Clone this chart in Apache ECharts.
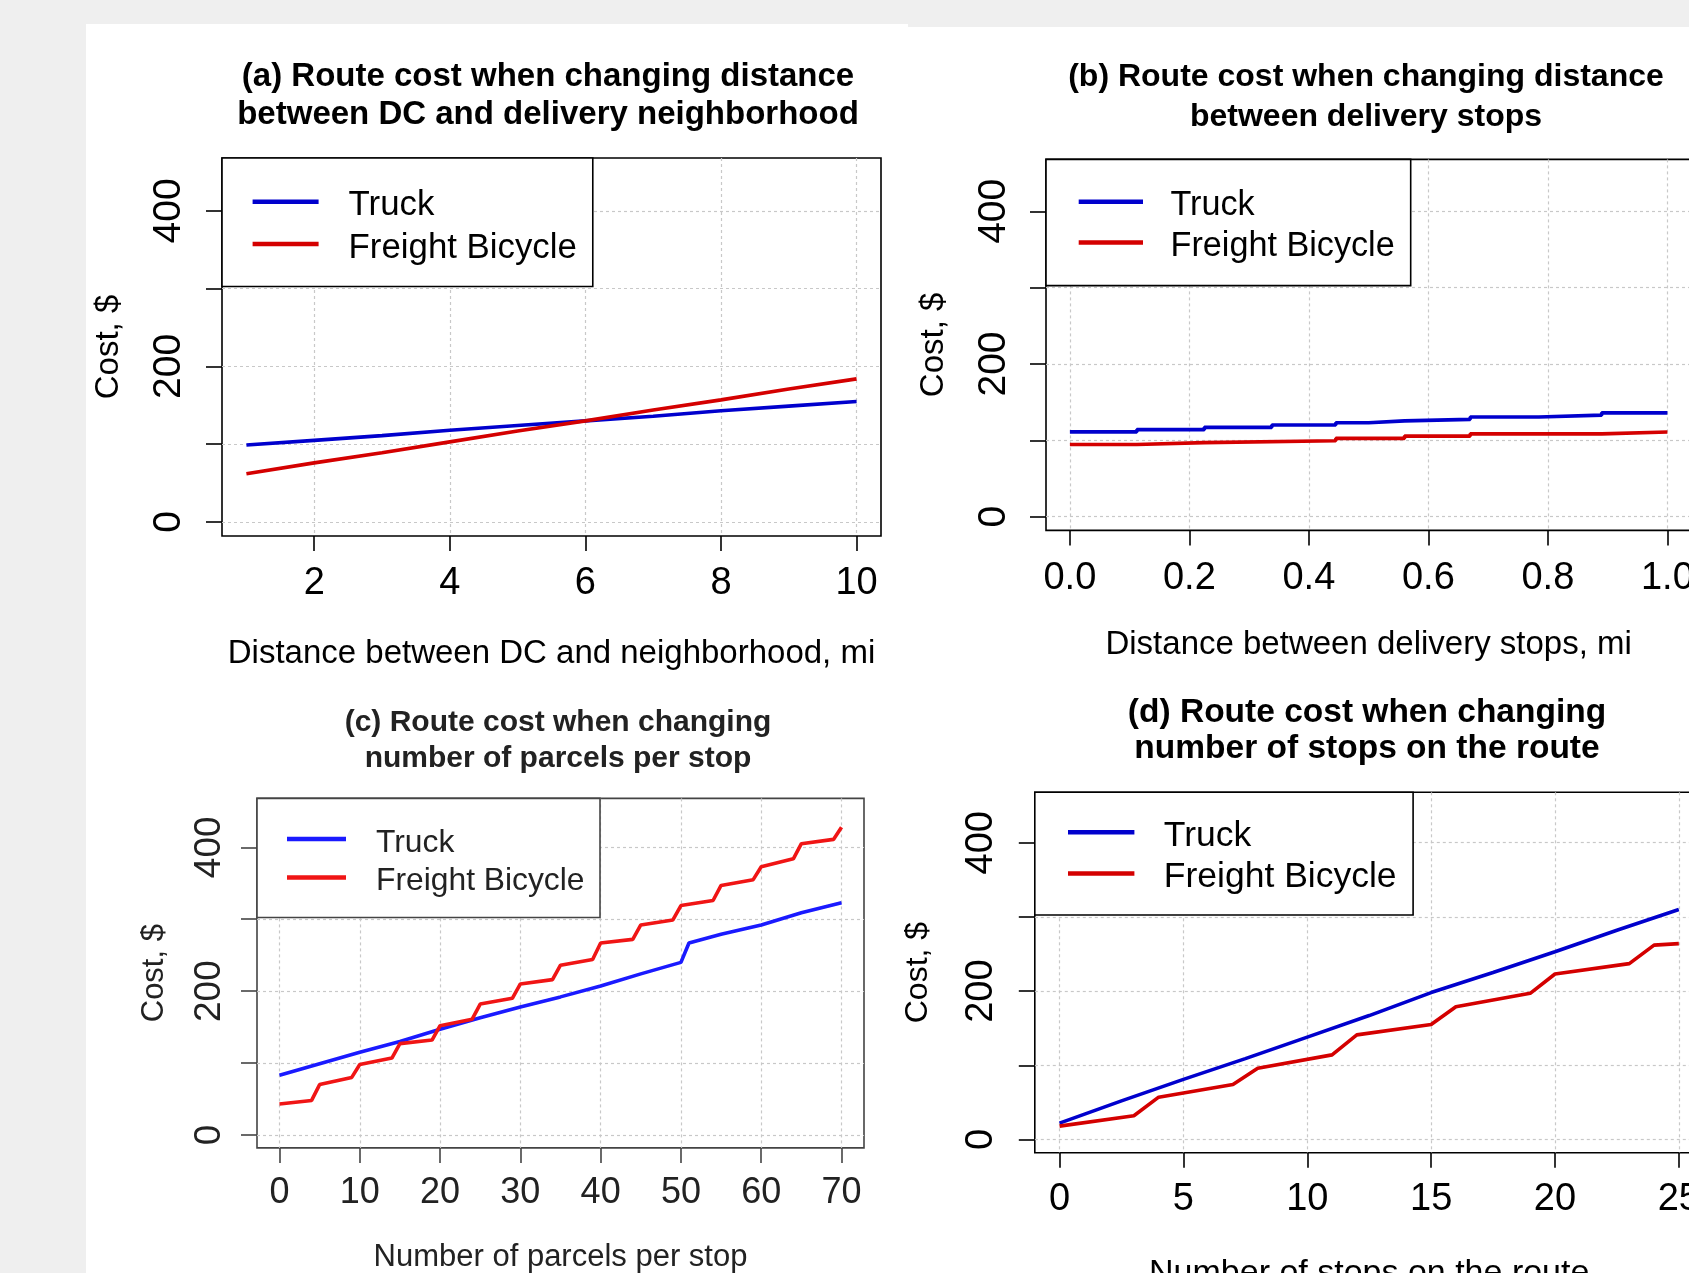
<!DOCTYPE html>
<html><head><meta charset="utf-8">
<script src="https://cdn.jsdelivr.net/npm/echarts@6/dist/echarts.min.js"></script>
<style>html,body{margin:0;padding:0;background:#fff}#c{width:1689px;height:1273px}</style>
</head><body><div id="c"></div>
<script>
// ---------------- data ----------------
const yTicks = [0, 100, 200, 300, 400];
const yTickLabels = [0, 200, 400];
const seriesNames = ['Truck', 'Freight Bicycle'];

// (a) distance between DC and neighborhood
const aTicks = [2, 4, 6, 8, 10];
const aDist = [1, 2, 3, 4, 5, 6, 7, 8, 9, 10];
const aTruck = [99, 105, 111, 118, 124, 130, 136, 143, 149, 155];
const aBike = [62, 76, 89, 103, 117, 130, 144, 157, 171, 184];

// (b) distance between delivery stops (step values)
const bTicks = [0, 0.2, 0.4, 0.6, 0.8, 1.0];
const bTruckX = [0, 0.112, 0.225, 0.338, 0.445, 0.5, 0.56, 0.67, 0.785, 0.89, 1.0];
const bTruck = [111, 114, 117, 120, 123, 125.5, 127.5, 130.5, 133, 136, 136];
const bBikeX = [0, 0.112, 0.225, 0.445, 0.56, 0.67, 0.89, 1.0];
const bBike = [94.5, 97, 99.5, 102.5, 105.5, 108.5, 111, 111];

// (c) number of parcels per stop
const cTicks = [0, 10, 20, 30, 40, 50, 60, 70];
const cTruckX = [0, 5, 10, 15, 20, 25, 30, 35, 40, 45, 50, 51, 55, 60, 65, 70];
const cTruck = [83, 99, 115, 130, 147, 163, 178, 192, 207, 224, 240, 267, 279, 292, 309, 323];
const cBikeX = [0, 4, 5, 9, 10, 14, 15, 19, 20, 24, 25, 29, 30, 34, 35, 39, 40, 44, 45, 49, 50, 54, 55, 59, 60, 64, 65, 69, 70];
const cBike = [43, 48, 70, 80, 98, 107, 127, 132, 152, 161, 182, 190, 210, 216, 236, 244, 267, 272, 292, 299, 319, 326, 347, 355, 373, 384, 405, 411, 428];

// (d) number of stops on the route
const dTicks = [0, 5, 10, 15, 20, 25];
const dTruckX = [0, 2.5, 5, 7.5, 10, 12.5, 15, 17.5, 20, 22.5, 25];
const dTruck = [22, 52, 81, 109, 138, 167, 198, 225, 253, 282, 310];
const dBikeX = [0, 3, 4, 7, 8, 11, 12, 15, 16, 19, 20, 23, 24, 25];
const dBike = [18, 32, 57, 74, 96, 114, 141, 155, 179, 197, 223, 237, 262, 264];

// ---------------- layout / style ----------------
const FONT = '"Liberation Sans", Arial, Helvetica, sans-serif';
const BG = '#efefef';
const zip = (xs, ys) => xs.map((x, i) => [x, ys[i]]);
const LEG_SHIFT = 8; // text padding-top inside legend rows

const panels = [
  { grid: {left: 222, top: 158, width: 659, height: 378}, xMin: 0.64, xMax: 10.36, xTicks: aTicks,
    fmt: v => String(v), tickFont: 38, yTickFont: 39, xLabelMargin: 48, yLabelMargin: 52.5,
    xName: 'Distance between DC and neighborhood, mi', xNameGap: 118, xNameFont: 33,
    yNameGap: 113, yNameFont: 33,
    title: '(a) Route cost when changing distance\nbetween DC and delivery neighborhood',
    titleX: 548, titleY: 96, titleFont: 33, titleLH: 38,
    legend: {left: 222, top: 158, pad: [23, 16, 21, 30.6], iw: 66, lh: 41.5, font: 34.8, tpad: 25},
    blue: '#0000cd', red: '#d40000', ink: '#000', frame: '#000',
    data: [zip(aDist, aTruck), zip(aDist, aBike)], step: false },
  { grid: {left: 1046, top: 159.4, width: 645.3, height: 371}, xMin: -0.04, xMax: 1.04, xTicks: bTicks,
    fmt: v => v.toFixed(1), tickFont: 38, yTickFont: 39, xLabelMargin: 48.6, yLabelMargin: 51.7,
    xName: 'Distance between delivery stops, mi', xNameGap: 115, xNameFont: 33,
    yNameGap: 112.5, yNameFont: 33,
    title: '(b) Route cost when changing distance\nbetween delivery stops',
    titleX: 1366, titleY: 97, titleFont: 32, titleLH: 39.5,
    legend: {left: 1046, top: 159.4, pad: [22.5, 16, 22, 32.7], iw: 64.3, lh: 39.7, font: 34.2, tpad: 22.5},
    blue: '#0000cd', red: '#d40000', ink: '#000', frame: '#000',
    data: [zip(bTruckX, bTruck), zip(bBikeX, bBike)], step: 'end' },
  { grid: {left: 257, top: 798.4, width: 607, height: 349.5}, xMin: -2.8, xMax: 72.8, xTicks: cTicks,
    fmt: v => String(v), tickFont: 36, yTickFont: 37, xLabelMargin: 45.5, yLabelMargin: 47.5,
    xName: 'Number of parcels per stop', xNameGap: 109.5, xNameFont: 31,
    yNameGap: 103, yNameFont: 31,
    title: '(c) Route cost when changing\nnumber of parcels per stop',
    titleX: 558, titleY: 740.5, titleFont: 30, titleLH: 36,
    legend: {left: 257, top: 798.4, pad: [22, 15.5, 20, 30], iw: 59, lh: 37.1, font: 31.8, tpad: 25},
    blue: '#1a1aff', red: '#f01515', ink: '#222', frame: '#444',
    data: [zip(cTruckX, cTruck), zip(cBikeX, cBike)], step: false },
  { grid: {left: 1034.8, top: 792.3, width: 668.8, height: 360.5}, xMin: -1, xMax: 26, xTicks: dTicks,
    fmt: v => String(v), tickFont: 38, yTickFont: 38, xLabelMargin: 46.5, yLabelMargin: 53,
    xName: 'Number of stops on the route', xNameGap: 121, xNameFont: 34,
    yNameGap: 117, yNameFont: 32,
    title: '(d) Route cost when changing\nnumber of stops on the route',
    titleX: 1367, titleY: 731, titleFont: 33.5, titleLH: 36,
    legend: {left: 1034.8, top: 792.3, pad: [20.7, 16.5, 19.5, 33.2], iw: 66.4, lh: 38.5, font: 35.5, tpad: 24.4},
    blue: '#0000cd', red: '#d40000', ink: '#000', frame: '#000',
    data: [zip(dTruckX, dTruck), zip(dBikeX, dBike)], step: false }
];

const gridLine = {show: true, lineStyle: {color: '#c8c8c8', type: [3, 3], width: 1.2}};

const option = {
  backgroundColor: '#fff',
  animation: false,
  textStyle: {fontFamily: FONT},
  grid: panels.map(p => Object.assign({show: true, borderColor: p.frame, borderWidth: 1.6,
    backgroundColor: '#fff', containLabel: false, outerBoundsMode: 'none'}, p.grid)),
  xAxis: panels.map((p, i) => ({
    type: 'value', gridIndex: i, min: p.xMin, max: p.xMax, position: 'bottom',
    axisLine: {show: false, onZero: false},
    axisTick: {show: true, length: 15, customValues: p.xTicks, lineStyle: {color: p.frame, width: 1.6}},
    axisLabel: {show: true, customValues: p.xTicks, formatter: p.fmt, margin: p.xLabelMargin,
      verticalAlign: 'middle', fontSize: p.tickFont, color: p.ink, fontFamily: FONT},
    splitLine: gridLine,
    name: p.xName, nameLocation: 'middle', nameGap: p.xNameGap,
    nameTextStyle: {fontSize: p.xNameFont, color: p.ink, verticalAlign: 'middle', fontFamily: FONT}
  })),
  yAxis: panels.map((p, i) => ({
    type: 'value', gridIndex: i, min: -18, max: 468, position: 'left',
    axisLine: {show: false, onZero: false},
    axisTick: {show: true, length: 16, customValues: yTicks, lineStyle: {color: p.frame, width: 1.6}},
    axisLabel: {show: true, customValues: yTickLabels, rotate: 90, margin: p.yLabelMargin,
      align: 'center', verticalAlign: 'middle', fontSize: p.yTickFont, color: p.ink, fontFamily: FONT},
    splitLine: gridLine,
    name: 'Cost, $', nameLocation: 'middle', nameRotate: 90, nameGap: p.yNameGap,
    nameTextStyle: {fontSize: p.yNameFont, color: p.ink, align: 'center', verticalAlign: 'middle', fontFamily: FONT}
  })),
  legend: panels.map(p => ({
    left: p.legend.left, top: p.legend.top, orient: 'vertical', selectedMode: false,
    data: [
      {name: seriesNames[0], itemStyle: {color: p.blue}},
      {name: seriesNames[1], itemStyle: {color: p.red}}
    ],
    icon: 'rect', itemWidth: p.legend.iw, itemHeight: 4.5, itemGap: 0,
    padding: p.legend.pad, borderColor: p.frame, borderWidth: 1.6, backgroundColor: '#fff',
    formatter: name => '{t|' + name + '}',
    textStyle: {fontSize: p.legend.font, lineHeight: p.legend.lh - LEG_SHIFT, color: p.ink, fontFamily: FONT,
      padding: [LEG_SHIFT, 0, 0, p.legend.tpad],
      rich: {t: {fontSize: p.legend.font, lineHeight: p.legend.lh - LEG_SHIFT, color: p.ink, fontFamily: FONT}}}
  })),
  series: panels.flatMap((p, i) => [
    {name: seriesNames[0], type: 'line', xAxisIndex: i, yAxisIndex: i, data: p.data[0], step: p.step,
      symbol: 'none', lineStyle: {color: p.blue, width: 3.6}, itemStyle: {color: p.blue}, z: 3},
    {name: seriesNames[1], type: 'line', xAxisIndex: i, yAxisIndex: i, data: p.data[1], step: p.step,
      symbol: 'none', lineStyle: {color: p.red, width: 3.6}, itemStyle: {color: p.red}, z: 3}
  ]),
  graphic: [
    {type: 'rect', shape: {x: 0, y: 0, width: 86, height: 1273}, style: {fill: BG}, silent: true},
    {type: 'rect', shape: {x: 0, y: 0, width: 908, height: 24}, style: {fill: BG}, silent: true},
    {type: 'rect', shape: {x: 908, y: 0, width: 781, height: 27}, style: {fill: BG}, silent: true}
  ].concat(panels.map(p => ({
    type: 'text', x: p.titleX, y: p.titleY, silent: true,
    style: {text: p.title, fill: p.ink, fontSize: p.titleFont, fontWeight: 'bold', fontFamily: FONT,
      lineHeight: p.titleLH, align: 'center', verticalAlign: 'middle',
      textAlign: 'center', textVerticalAlign: 'middle'}
  })))
};

const chart = echarts.init(document.getElementById('c'), null, {renderer: 'canvas'});
chart.setOption(option);
</script></body></html>
